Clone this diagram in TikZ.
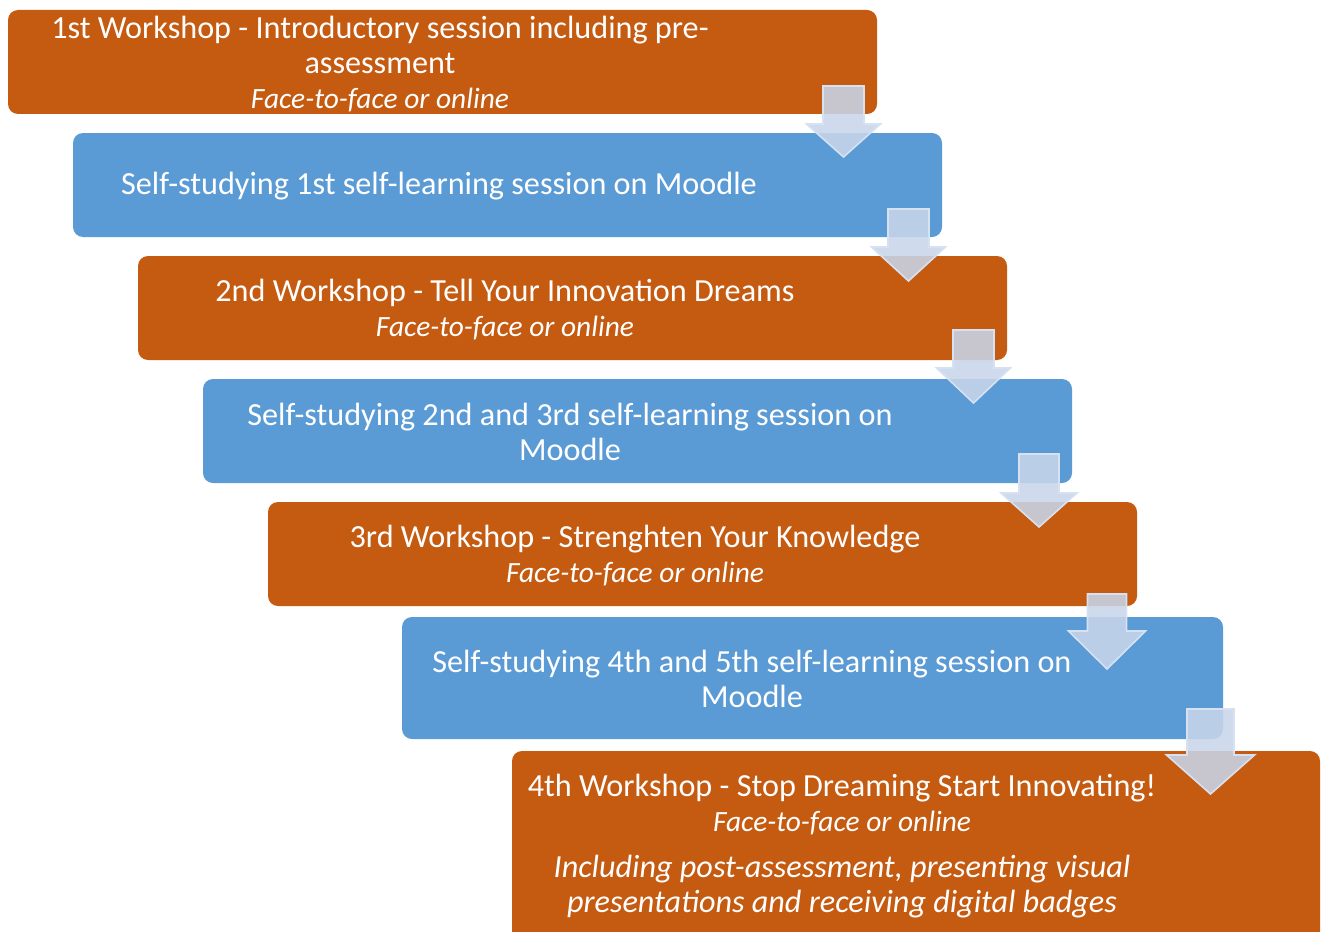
\documentclass[tikz,border=0pt]{standalone}
\usepackage{fontspec}
\setmainfont{Carlito}
\usetikzlibrary{positioning}

\definecolor{wsorange}{HTML}{C55A11}
\definecolor{selfblue}{HTML}{5B9BD5}
\definecolor{arrowfill}{HTML}{C8D6EA}
\definecolor{arrowline}{HTML}{D6E1F1}

\newcommand{\deliverymode}{{\fontsize{14.7}{17.5}\selectfont\itshape Face-to-face or online}}

\begin{document}
\begin{tikzpicture}[x=0.5pt, y=-0.5pt,
    font=\fontsize{16.1}{17.5}\selectfont, align=center]

    \tikzset{
      workshop/.style = {fill=wsorange, rounded corners=5pt},
      selfstudy/.style = {fill=selfblue, rounded corners=5pt},
      caption/.style = {text=white, inner sep=0pt},
      flowarrow/.style = {fill=arrowfill, fill opacity=0.88,
        draw=arrowline, line width=0.8pt, line join=miter},
    }

    \useasboundingbox (0,0) rectangle (1326,931);

    % boxes
    \fill[workshop ] (8,10)    rectangle (877,114);
    \fill[selfstudy] (73,133)  rectangle (942,237);
    \fill[workshop ] (138,256) rectangle (1007,360);
    \fill[selfstudy] (203,379) rectangle (1072,483);
    \fill[workshop ] (268,502) rectangle (1137,606);
    \fill[selfstudy] (402,617) rectangle (1223,739);
    \fill[workshop ] (512,751) rectangle (1320,945);

    % texts
    \node[caption] (ws1) at (380,64)
      {1st Workshop - Introductory session including pre-\\assessment\\\deliverymode};
    \node[caption] (ss1) at (439,186)
      {Self-studying 1st self-learning session on Moodle};
    \node[caption] (ws2) at (505,310)
      {2nd Workshop - Tell Your Innovation Dreams\\\deliverymode};
    \node[caption] (ss2) at (570,432)
      {Self-studying 2nd and 3rd self-learning session on\\Moodle};
    \node[caption] (ws3) at (635,556)
      {3rd Workshop - Strenghten Your Knowledge\\\deliverymode};
    \node[caption] (ss3) at (752,679)
      {Self-studying 4th and 5th self-learning session on\\Moodle};
    \node[caption] (ws4) at (842,846)
      {4th Workshop - Stop Dreaming Start Innovating!\\\deliverymode\\[5.5pt]
       \textit{Including post-assessment, presenting visual}\\\textit{presentations and receiving digital badges}};

    % block arrows
    \foreach \cx/\top/\base/\tip/\sw/\hw in {
        843.5/86/124/157/20.5/37,
        908.5/209/247/281/20.5/37,
        973.5/330/368/403/20.5/37,
        1039/454/493/527/20/38,
        1107/594/631/669/19.5/38.5,
        1210.5/709/755/794/23.5/44}
      \draw[flowarrow] (\cx-\sw,\top) -- (\cx+\sw,\top) -- (\cx+\sw,\base)
        -- (\cx+\hw,\base) -- (\cx,\tip) -- (\cx-\hw,\base)
        -- (\cx-\sw,\base) -- cycle;

  \end{tikzpicture}
\end{document}
